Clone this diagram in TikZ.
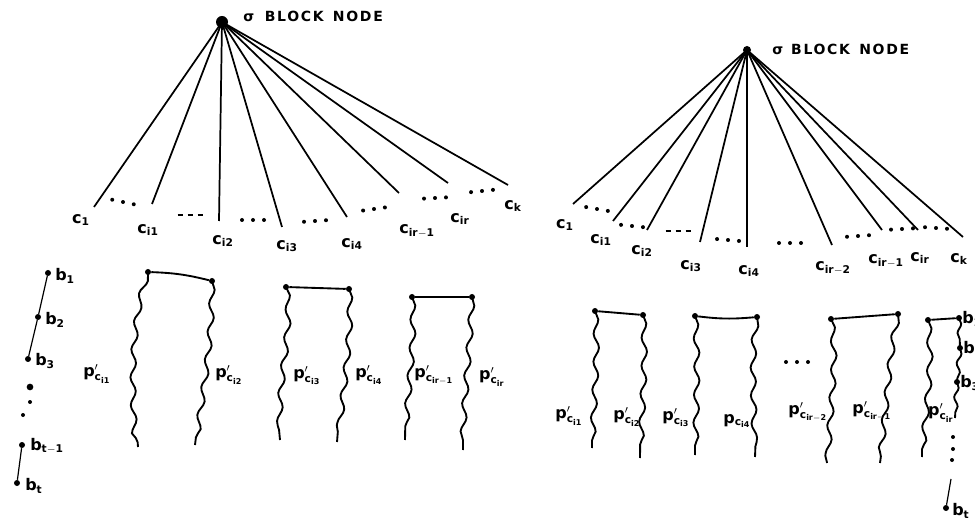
\documentclass[tikz,border=0pt]{standalone}
\usepackage{fontspec}
\setmainfont{DejaVu Sans}[UprightFont={* Bold}]
\setsansfont{DejaVu Sans}[UprightFont={* Bold}]
\usetikzlibrary{decorations.pathmorphing}

% label helpers
\newcommand{\clab}[1]{$\mathsf{c}_{\mathsf{#1}}$}
\newcommand{\plab}[1]{$\mathsf{p}'_{\mathsf{c}_{\mathsf{#1}}}$}
\newcommand{\pnlab}[1]{$\mathsf{p}_{\mathsf{c}_{\mathsf{#1}}}$}
\newcommand{\blab}[1]{$\mathsf{b}_{\mathsf{#1}}$}

\begin{document}
\begin{tikzpicture}[x=0.75pt,y=-0.75pt,
  edge/.style={line width=1.3pt},
  thin edge/.style={line width=0.9pt},
  bar/.style={line width=1.4pt},
  wavy/.style={line width=1.4pt, decorate,
    decoration={snake, segment length=21pt, amplitude=2pt}},
  wavys/.style={line width=1.4pt, decorate,
    decoration={snake, segment length=14pt, amplitude=1.5pt}},
  pt/.style={circle, fill, inner sep=0pt, minimum size=4.5pt},
  spt/.style={circle, fill, inner sep=0pt, minimum size=3pt},
  root/.style={circle, fill, inner sep=0pt, minimum size=#1},
  lbl/.style={inner sep=0pt, font=\fontsize{12}{13}\selectfont},
  hdr/.style={inner sep=0pt, anchor=west,
    font=\fontsize{10.5}{12}\selectfont\addfontfeature{LetterSpace=12}},
  ellip/.pic={\foreach \k in {-1,0,1} \fill (\k*11,0) circle (1.5pt);},
  dashel/.pic={\foreach \k in {-1,0,1} \draw[line width=1.4pt] (\k*10-2.5,0) -- (\k*10+2.5,0);},
]
\useasboundingbox (0,0) rectangle (975,520);

%% ---------------- left tree ----------------
\node[root=9pt] (rL) at (222,22) {};
\node[hdr] (hL) at (243,16) {σ\hspace{8pt}BLOCK\hspace{7pt}NODE};

\coordinate (L1) at (94,207);
\coordinate (L2) at (152,204);
\coordinate (L3) at (219,221);
\coordinate (L4) at (282,227);
\coordinate (L5) at (347,217);
\coordinate (L6) at (399,193);
\coordinate (L7) at (448,183);
\coordinate (L8) at (508,185);
\foreach \e in {L1,L2,L3,L4,L5,L6,L7,L8} \draw[edge] (rL.center) -- (\e);

\node[lbl] (cL1) at (81,220) {\clab{1}};
\node[lbl] (cL2) at (148,230) {\clab{i1}};
\node[lbl] (cL3) at (223,241) {\clab{i2}};
\node[lbl] (cL4) at (287,246) {\clab{i3}};
\node[lbl] (cL5) at (352,244) {\clab{i4}};
\node[lbl] (cL6) at (417,231) {\clab{ir{-}1}};
\node[lbl] (cL7) at (460,219) {\clab{ir}};
\node[lbl] (cL8) at (513,206) {\clab{k}};

\pic[rotate=-12] at (123,202) {ellip};
\pic at (190,215) {dashel};
\pic at (253,220) {ellip};
\pic[rotate=4] at (315,221) {ellip};
\pic[rotate=8] at (374,209) {ellip};
\pic[rotate=3] at (435,198) {ellip};
\pic[rotate=6] at (482,191) {ellip};

%% ---------------- right tree ----------------
\node[root=6pt] (rR) at (747,50) {};
\node[hdr] (hR) at (772,49) {σ\hspace{6pt}BLOCK\hspace{7pt}NODE};

\coordinate (R1) at (573,204);
\coordinate (R2) at (613,221);
\coordinate (R3) at (647,230);
\coordinate (R4) at (700,242);
\coordinate (R5) at (747,247);
\coordinate (R6) at (832,245);
\coordinate (R7) at (882,230);
\coordinate (R8) at (918,230);
\coordinate (R9) at (963,237);
\foreach \e in {R1,R2,R3,R4,R5,R6,R7,R8,R9} \draw[edge] (rR.center) -- (\e);

\node[lbl] (cR1) at (565,225) {\clab{1}};
\node[lbl] (cR2) at (601,240) {\clab{i1}};
\node[lbl] (cR3) at (642,251) {\clab{i2}};
\node[lbl] (cR4) at (691,266) {\clab{i3}};
\node[lbl] (cR5) at (749,271) {\clab{i4}};
\node[lbl] (cR6) at (833,268) {\clab{ir{-}2}};
\node[lbl] (cR7) at (886,261) {\clab{ir{-}1}};
\node[lbl] (cR8) at (920,258) {\clab{ir}};
\node[lbl] (cR9) at (959,259) {\clab{k}};

\pic[rotate=-10] at (597,209) {ellip};
\pic[rotate=-6] at (632,226) {ellip};
\pic at (678,231) {dashel};
\pic[rotate=-5] at (728,240) {ellip};
\pic at (790,243) {ellip};
\pic[rotate=4] at (858,236) {ellip};
\pic[rotate=3] at (902,229) {ellip};
\pic[rotate=-4] at (936,228) {ellip};

%% ---------------- left chain b_1 ... b_t ----------------
\node[pt] (bl1) at (48,273) {};
\node[pt] (bl2) at (38,317) {};
\node[pt] (bl3) at (28,359) {};
\node[pt] (blt1) at (22,445) {};
\node[pt] (blt) at (17,483) {};
\draw[thin edge] (bl1) -- (bl2) -- (bl3);
\draw[thin edge] (blt1) -- (blt);
\node[pt, minimum size=5pt] (bld1) at (30,387) {};
\node[spt] (bld2) at (30,402) {};
\node[spt] (bld3) at (23,415) {};
\node[lbl, anchor=west] (tb1) at (55,276) {\blab{1}};
\node[lbl, anchor=west] (tb2) at (45,320) {\blab{2}};
\node[lbl, anchor=west] (tb3) at (35,361) {\blab{3}};
\node[lbl, anchor=west] (tbt1) at (30,446) {\blab{t-1}};
\node[lbl, anchor=west] (tbt) at (25,486) {\blab{t}};

%% ---------------- left path pairs ----------------
% pair 1
\node[pt] (la1) at (148,272) {};
\node[pt] (lb1) at (212,281) {};
\coordinate (la1e) at (138,447);
\coordinate (lb1e) at (195,445);
\draw[bar] (la1) to[bend left=6] (lb1);
\draw[wavy] (la1.center) .. controls +(-16,50) and +(-4,-60) .. (la1e);
\draw[wavy] (lb1.center) .. controls +(0,60) and +(6,-50) .. (lb1e);
\node[lbl] (pl1) at (97,374) {\plab{i1}};
\node[lbl] (pl2) at (229,375) {\plab{i2}};
% pair 2
\node[pt] (la2) at (286,287) {};
\node[pt] (lb2) at (349,289) {};
\coordinate (la2e) at (280,440);
\coordinate (lb2e) at (337,442);
\draw[bar] (la2) -- (lb2);
\draw[wavy] (la2.center) .. controls +(6,40) and +(-6,-60) .. (la2e);
\draw[wavy] (lb2.center) .. controls +(3,40) and +(3,-40) .. (lb2e);
\node[lbl] (pl3) at (307,376) {\plab{i3}};
\node[lbl] (pl4) at (369,375) {\plab{i4}};
% pair 3
\node[pt] (la3) at (412,297) {};
\node[pt] (lb3) at (472,297) {};
\coordinate (la3e) at (405,440);
\coordinate (lb3e) at (463,450);
\draw[bar] (la3) -- (lb3);
\draw[wavy] (la3.center) .. controls +(3,40) and +(0,-40) .. (la3e);
\draw[wavy] (lb3.center) .. controls +(-2,50) and +(0,-50) .. (lb3e);
\node[lbl] (pl5) at (434,375) {\plab{ir{-}1}};
\node[lbl] (pl6) at (492,377) {\plab{ir}};

%% ---------------- right path pairs ----------------
% pair A
\node[pt] (ra1) at (595,311) {};
\node[pt] (rb1) at (643,315) {};
\coordinate (ra1e) at (592,448);
\coordinate (rb1e) at (640,458);
\draw[bar] (ra1) -- (rb1);
\draw[wavy] (ra1.center) .. controls +(3,40) and +(0,-40) .. (ra1e);
\draw[wavy] (rb1.center) .. controls +(3,40) and +(0,-40) .. (rb1e);
\node[lbl] (pr1) at (569,416) {\plab{i1}};
\node[lbl] (pr2) at (627,417) {\plab{i2}};
% pair B
\node[pt] (ra2) at (695,316) {};
\node[pt] (rb2) at (757,317) {};
\coordinate (ra2e) at (695,455);
\coordinate (rb2e) at (755,457);
\draw[bar] (ra2) to[bend right=6] (rb2);
\draw[wavy] (ra2.center) .. controls +(3,40) and +(0,-40) .. (ra2e);
\draw[wavy] (rb2.center) .. controls +(-6,40) and +(2,-40) .. (rb2e);
\node[lbl] (pr3) at (676,418) {\plab{i3}};
\node[lbl] (pr4) at (737,421) {\pnlab{i4}};
% dots between the pairs
\pic at (797,362) {ellip};
% pair C
\node[pt] (ra3) at (831,319) {};
\node[pt] (rb3) at (898,314) {};
\coordinate (ra3e) at (827,463);
\coordinate (rb3e) at (880,463);
\draw[bar] (ra3) -- (rb3);
\draw[wavy] (ra3.center) .. controls +(6,40) and +(0,-50) .. (ra3e);
\draw[wavy] (rb3.center) .. controls +(-8,40) and +(8,-60) .. (rb3e);
\node[lbl] (pr5) at (808,412) {\plab{ir{-}2}};
\node[lbl] (pr6) at (872,411) {\plab{ir{-}1}};
% pair D with the chain b_1 ... b_t on its right side
\node[pt] (ra4) at (928,320) {};
\node[pt] (rb4) at (959,318) {};
\node[pt] (rbb2) at (960,348) {};
\node[pt] (rbb3) at (957,382) {};
\coordinate (ra4e) at (922,457);
\coordinate (rb4e) at (955,418);
\draw[bar] (ra4) -- (rb4);
\draw[wavy] (ra4.center) .. controls +(5,50) and +(0,-40) .. (ra4e);
\draw[wavys] (rb4.center) -- (rbb2.center);
\draw[wavys] (rbb2.center) -- (rbb3.center);
\draw[wavys] (rbb3.center) -- (rb4e);
\node[lbl] (pr7) at (941,413) {\plab{ir}};
\node[lbl, anchor=west] (tr1) at (962,319) {\blab{1}};
\node[lbl, anchor=west] (tr2) at (963,349) {\blab{2}};
\node[lbl, anchor=west] (tr3) at (960,383) {\blab{3}};
\node[spt] (rd1) at (953,437) {};
\node[spt] (rd2) at (953,449) {};
\node[spt] (rd3) at (952,460) {};
\coordinate (rtt) at (951,479);
\node[pt] (rbt) at (946,508) {};
\draw[thin edge] (rtt) -- (rbt);
\node[lbl, anchor=west] (trt) at (952,511) {\blab{t}};
\end{tikzpicture}
\end{document}
